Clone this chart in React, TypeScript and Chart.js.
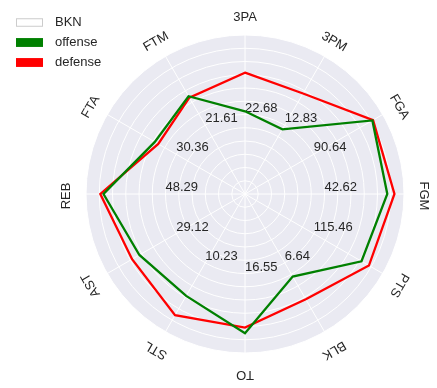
import React, { useEffect, useRef } from "react";
import { Chart, registerables } from "chart.js";

Chart.register(...registerables);

// ---- data ----
const team = "BKN";
const categories = ["3PA", "3PM", "FGA", "FGM", "PTS", "BLK", "TO", "STL", "AST", "REB", "FTA", "FTM"];
const valueLabels = ["22.68", "12.83", "90.64", "42.62", "115.46", "6.64", "16.55", "10.23", "29.12", "48.29", "30.36", "21.61"];
const offense = [0.52, 0.47, 0.925, 0.895, 0.846, 0.6, 0.876, 0.74, 0.767, 0.89, 0.655, 0.71];
const defense = [0.763, 0.73, 0.93, 0.94, 0.9, 0.765, 0.84, 0.88, 0.82, 0.91, 0.63, 0.7];
const ringCount = 12;
const seriesNames = ["offense", "defense"];
const seriesColors = ["#008000", "#ff0000"];

const FONT = "'Liberation Sans', Arial, sans-serif";
const TEXT = "#262626";

const overlay = {
  id: "overlay",
  beforeDatasetsDraw(chart: any) {
    const r = chart.scales.r;
    const ctx = chart.ctx;
    ctx.save();
    ctx.font = `13px ${FONT}`;
    ctx.fillStyle = TEXT;
    ctx.textAlign = "left";
    ctx.textBaseline = "bottom";
    valueLabels.forEach((t, i) => {
      const p = r.getPointPositionForValue(i, 0.5);
      ctx.fillText(t, p.x, p.y);
    });
    ctx.restore();
  },
  afterDraw(chart: any) {
    const r = chart.scales.r;
    const ctx = chart.ctx;
    ctx.save();
    ctx.font = `13px ${FONT}`;
    ctx.fillStyle = TEXT;
    categories.forEach((c, i) => {
      const angle = r.getIndexAngle(i);
      const p = r.getPointPositionForValue(i, 1.12);
      ctx.save();
      ctx.translate(p.x, p.y + 2);
      ctx.rotate(angle);
      ctx.textAlign = "center";
      ctx.textBaseline = "middle";
      ctx.fillText(c, 0, 0);
      ctx.restore();
    });
    // legend
    const entries = [
      { label: team, fill: "#ffffff", stroke: "#cccccc" },
      ...seriesNames.map((n, k) => ({ label: n, fill: seriesColors[k], stroke: seriesColors[k] })),
    ];
    entries.forEach((e, k) => {
      const cy = 22.5 + k * 20;
      ctx.fillStyle = e.fill;
      ctx.fillRect(16, cy - 4.25, 27, 8.5);
      ctx.strokeStyle = e.stroke;
      ctx.lineWidth = 1;
      ctx.strokeRect(16.5, cy - 3.75, 26, 7.5);
      ctx.fillStyle = TEXT;
      ctx.textAlign = "left";
      ctx.textBaseline = "middle";
      ctx.fillText(e.label, 55, cy);
    });
    ctx.restore();
  },
};

export default function App() {
  const ref = useRef<HTMLCanvasElement>(null);
  useEffect(() => {
    if (!ref.current) return;
    const chart = new Chart(ref.current, {
      type: "radar",
      data: {
        labels: categories,
        datasets: [
          {
            label: seriesNames[0],
            data: offense,
            borderColor: seriesColors[0],
            backgroundColor: "transparent",
            borderWidth: 2.3,
            pointRadius: 0,
            fill: false,
          },
          {
            label: seriesNames[1],
            data: defense,
            borderColor: seriesColors[1],
            backgroundColor: "transparent",
            borderWidth: 2.3,
            pointRadius: 0,
            fill: false,
          },
        ],
      },
      options: {
        responsive: false,
        animation: false,
        devicePixelRatio: 1,
        layout: { padding: { left: 86, right: 33, top: 35, bottom: 34 } },
        plugins: { legend: { display: false }, tooltip: { enabled: false } },
        elements: { line: { tension: 0 } },
        scales: {
          r: {
            min: 0,
            max: 1,
            backgroundColor: "#EAEAF2",
            afterBuildTicks: (scale: any) => {
              scale.ticks = Array.from({ length: ringCount + 1 }, (_, i) => ({ value: i / ringCount }));
            },
            ticks: { display: false },
            pointLabels: { display: false },
            grid: { circular: true, color: "#ffffff", lineWidth: 1 },
            angleLines: { color: "#ffffff", lineWidth: 1 },
          },
        },
      },
      plugins: [overlay],
    });
    return () => chart.destroy();
  }, []);
  return (
    <div style={{ position: "fixed", left: 0, top: 0, width: 437, height: 388, background: "#fff" }}>
      <canvas ref={ref} width={437} height={388} style={{ display: "block" }} />
    </div>
  );
}
